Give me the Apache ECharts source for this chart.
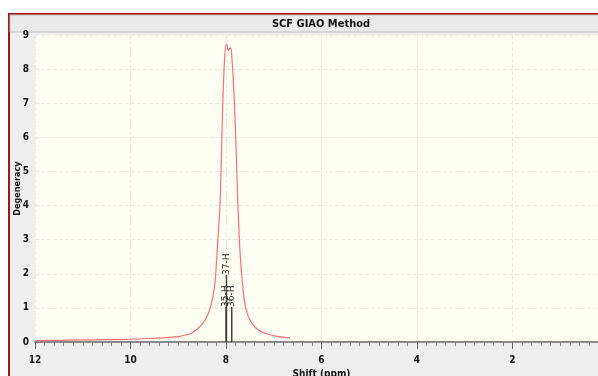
<!DOCTYPE html>
<html>
<head>
<meta charset="utf-8">
<script src="https://cdn.jsdelivr.net/npm/echarts@6/dist/echarts.min.js"></script>
<style>
  html, body { margin: 0; padding: 0; background: #ffffff; }
  #chart { width: 598px; height: 376px; }
</style>
</head>
<body>
<div id="chart"></div>
<script>
// 谱线（ppm, degeneracy）
const shifts = [12.0, 11.5, 11.0, 10.5, 10.0, 9.5, 9.0, 8.8, 8.7, 8.6, 8.5, 8.4, 8.34, 8.28, 8.23, 8.17, 8.12, 8.07, 8.03, 8.00, 7.98, 7.95, 7.92, 7.90, 7.87, 7.84, 7.82, 7.79, 7.76, 7.73, 7.70, 7.66, 7.62, 7.58, 7.5, 7.4, 7.3, 7.1, 6.9, 6.66];
const degeneracy = [0.04, 0.05, 0.06, 0.07, 0.08, 0.11, 0.16, 0.22, 0.28, 0.38, 0.52, 0.75, 0.95, 1.3, 1.74, 3.0, 4.2, 6.9, 8.3, 8.72, 8.7, 8.55, 8.6, 8.62, 8.2, 7.5, 6.9, 5.7, 4.4, 3.3, 2.5, 1.8, 1.25, 0.95, 0.65, 0.45, 0.33, 0.22, 0.16, 0.12];

// 原子标记
const stickNames = ['35-H', '36-H', '37-H'];
const stickShifts = [8.00, 7.88, 7.99];
const stickHeights = [1, 1, 1];
const stickLevels = [0, 0, 1];

const xTicks = [12, 10, 8, 6, 4, 2, 0];
const yTicks = [0, 1, 2, 3, 4, 5, 6, 7, 8, 9];

const myChart = echarts.init(document.getElementById('chart'));

const curveData = shifts.map((s, i) => [s, degeneracy[i]]);
const stickData = stickShifts.map((s, i) => [s, stickHeights[i], stickLevels[i], i]);

const option = {
  animation: false,
  backgroundColor: '#ffffff',
  graphic: [
    // 外框
    { type: 'rect', z: -10, shape: { x: 9, y: 14, width: 640, height: 400 }, style: { fill: '#efefef', stroke: '#a31515', lineWidth: 2 } },
    // 标题栏
    { type: 'rect', z: -9, shape: { x: 10, y: 15, width: 640, height: 17 }, style: { fill: '#ebebeb', stroke: '#bdbdbd', lineWidth: 1 } },
    { type: 'text', z: 10, x: 321, y: 24, style: { text: 'SCF GIAO Method', fill: '#111', font: 'bold 11px "DejaVu Sans Condensed", "DejaVu Sans", sans-serif', align: 'center', verticalAlign: 'middle' } },
  ],
  grid: {
    left: 35,
    right: -10,
    top: 35,
    bottom: 34,
    outerBoundsMode: 'none',
    containLabel: false,
    show: true,
    backgroundColor: '#fffff4',
    borderWidth: 0,
  },
  xAxis: {
    type: 'value',
    inverse: true,
    min: 0,
    max: 12,
    interval: 2,
    name: 'Shift (ppm)',
    nameLocation: 'middle',
    nameGap: 27,
    nameTextStyle: { fontSize: 10, fontWeight: 'bold', color: '#111', fontFamily: '"DejaVu Sans Condensed", sans-serif' },
    axisLine: { show: true, lineStyle: { color: '#8a8a8a', width: 2 } },
    axisTick: { show: true, length: 7, lineStyle: { color: '#666' } },
    minorTick: { show: true, splitNumber: 10, length: 4, lineStyle: { color: '#888' } },
    axisLabel: {
      fontSize: 10, fontWeight: 'bold', color: '#111', margin: 13,
      fontFamily: '"DejaVu Sans Condensed", sans-serif',
      formatter: v => (xTicks.indexOf(v) >= 0 ? String(v) : ''),
    },
    splitLine: { show: true, lineStyle: { color: '#ecece2', type: 'dashed' } },
  },
  yAxis: {
    type: 'value',
    min: 0,
    max: 9,
    interval: 1,
    name: 'Degeneracy',
    nameLocation: 'middle',
    nameGap: 13,
    nameMoveOverlap: false,
    nameTextStyle: { fontSize: 9, fontWeight: 'bold', color: '#111', fontFamily: '"DejaVu Sans Condensed", sans-serif' },
    axisLine: { show: true, lineStyle: { color: '#8a8a8a', width: 2 } },
    axisTick: { show: true, length: 4, lineStyle: { color: '#666' } },
    axisLabel: {
      fontSize: 10, fontWeight: 'bold', color: '#111', margin: 6,
      fontFamily: '"DejaVu Sans Condensed", sans-serif',
      formatter: v => (yTicks.indexOf(v) >= 0 ? String(v) : ''),
    },
    splitLine: { show: true, lineStyle: { color: '#ecece2', type: 'dashed' } },
  },
  series: [
    {
      name: 'spectrum',
      type: 'line',
      smooth: 0.3,
      showSymbol: false,
      lineStyle: { color: '#ff6f6f', width: 1.2 },
      data: curveData,
      z: 3,
    },
    {
      name: 'sticks',
      type: 'custom',
      z: 4,
      data: stickData,
      renderItem: (params, api) => {
        const x = api.value(0);
        const h = api.value(1);
        const lvl = api.value(2);
        const idx = api.value(3);
        const p0 = api.coord([x, 0]);
        const p1 = api.coord([x, h]);
        const labelY = p1[1] - 1 - lvl * 32;
        return {
          type: 'group',
          children: [
            { type: 'line', shape: { x1: p0[0], y1: p0[1], x2: p1[0], y2: labelY }, style: { stroke: '#444', lineWidth: 1.5 } },
            {
              type: 'text', x: p1[0], y: labelY, rotation: Math.PI / 2,
              style: { text: stickNames[idx], fill: '#222', font: '9px "DejaVu Sans", sans-serif', align: 'left', verticalAlign: 'middle' },
            },
          ],
        };
      },
    },
  ],
};

myChart.setOption(option);
</script>
</body>
</html>
